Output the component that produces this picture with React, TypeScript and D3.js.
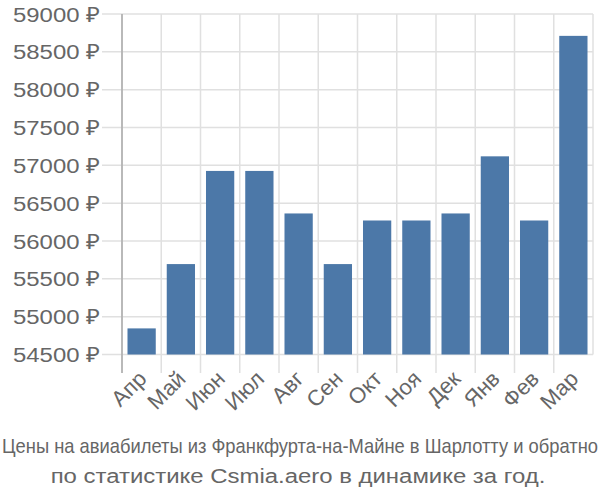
import React from "react";
import * as d3 from "d3";

const months = ["Апр", "Май", "Июн", "Июл", "Авг", "Сен", "Окт", "Ноя", "Дек", "Янв", "Фев", "Мар"];
const prices = [54845, 55695, 56926, 56926, 56364, 55695, 56271, 56271, 56364, 57119, 56271, 58711];
const yTicks = [54500, 55000, 55500, 56000, 56500, 57000, 57500, 58000, 58500, 59000];
const titleLine1 = "Цены на авиабилеты из Франкфурта-на-Майне в Шарлотту и обратно";
const titleLine2 = "по статистике Csmia.aero в динамике за год.";

const W = 600, H = 500;
const left = 122, right = 593, top = 14, bottom = 354.5;
const SX = 1.14;

export default function App() {
  const x = d3.scaleBand<string>().domain(months).range([left, right]).paddingInner(0.28).paddingOuter(0.14);
  const xb = d3.scaleBand<string>().domain(months).range([left, right]);
  const y = d3.scaleLinear().domain([54500, 59000]).range([bottom, top]);
  const font = "'Liberation Sans', Arial, sans-serif";
  return (
    <svg width={W} height={H} style={{ position: "absolute", left: 0, top: 0 }}>
      <rect x={0} y={0} width={W} height={H} fill="#fff" />
      {yTicks.map((t) => (
        <line key={"g" + t} x1={102} x2={right} y1={y(t)} y2={y(t)} stroke="#e0e0e0" strokeWidth={1.5} />
      ))}
      {months.map((m) => (
        <line key={"v" + m} x1={xb(m)!} x2={xb(m)!} y1={top} y2={373} stroke="#e0e0e0" strokeWidth={1.5} />
      ))}
      <line x1={right} x2={right} y1={top} y2={bottom} stroke="#e0e0e0" strokeWidth={1.5} />
      <line x1={left} x2={left} y1={top} y2={373} stroke="#aaa" strokeWidth={1.5} />
      {months.map((m, i) => (
        <rect key={"b" + m} x={x(m)!} width={x.bandwidth()} y={y(prices[i])} height={bottom - y(prices[i])} fill="#4c78a8" />
      ))}
      {yTicks.map((t) => (
        <g key={"t" + t} transform={`translate(100 ${y(t)}) scale(${SX} 1)`}>
          <text x={0} y={0} dy="0.36em" textAnchor="end" fontFamily={font} fontSize={21} fill="#666">
            {t} ₽
          </text>
        </g>
      ))}
      {months.map((m) => {
        const cx = xb(m)! + xb.bandwidth() / 2 - 5;
        const cy = 369;
        return (
          <text key={"l" + m} x={cx} y={cy} textAnchor="end" fontFamily={font} fontSize={22} fill="#666" transform={`rotate(-45 ${cx} ${cy})`} dy="0.72em">
            {m}
          </text>
        );
      })}
      <text x={300} y={453} textAnchor="middle" fontFamily={font} fontSize={21} fill="#666" textLength={596} lengthAdjust="spacingAndGlyphs">
        {titleLine1}
      </text>
      <g transform={`translate(298 483) scale(${SX} 1)`}>
        <text x={0} y={0} textAnchor="middle" fontFamily={font} fontSize={21} fill="#666">
          {titleLine2}
        </text>
      </g>
    </svg>
  );
}
